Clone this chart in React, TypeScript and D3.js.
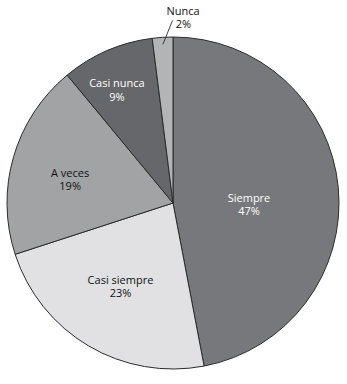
import React from "react";
import * as d3 from "d3";

const categories = ["Siempre", "Casi siempre", "A veces", "Casi nunca", "Nunca"];
const percents = [47, 23, 19, 9, 2];
const percentLabels = ["47%", "23%", "19%", "9%", "2%"];

const fills = ["#77787b", "#e1e1e3", "#a2a3a5", "#66676a", "#b3b4b6"];
const textColors = ["#ffffff", "#111111", "#111111", "#ffffff", "#111111"];
// label placement: [angle in degrees clockwise from top, radius fraction]
const labelPolar: [number, number][] = [
  [91, 0.458],
  [212.2, 0.594],
  [283, 0.636],
  [333.6, 0.76],
];

const W = 347;
const H = 384;
const cx = 173;
const cy = 203;
const R = 166;

export default function App() {
  const pie = d3
    .pie<number>()
    .sort(null)
    .value((d) => d);
  const arcs = pie(percents);
  const arcGen = d3.arc<d3.PieArcDatum<number>>().innerRadius(0).outerRadius(R);
  const font = "'Open Sans', sans-serif";
  const fs = 11;
  const lh = 13.5;

  const polar = (deg: number, r: number) => {
    const a = (deg * Math.PI) / 180;
    return [Math.sin(a) * r, -Math.cos(a) * r];
  };

  return (
    <svg
      width={W}
      height={H}
      style={{ position: "absolute", left: 0, top: 0, background: "#fff" }}
    >
      <g transform={`translate(${cx},${cy})`}>
        {arcs.map((a, i) => (
          <path
            key={categories[i]}
            d={arcGen(a) || ""}
            fill={fills[i]}
            stroke="#2b2b2d"
            strokeWidth={1}
            strokeLinejoin="round"
          />
        ))}
        {arcs.slice(0, 4).map((a, i) => {
          const [x, y] = polar(labelPolar[i][0], labelPolar[i][1] * R);
          return (
            <text
              key={"l" + i}
              x={x}
              y={y}
              fill={textColors[i]}
              fontFamily={font}
              fontSize={fs}
              textAnchor="middle"
            >
              <tspan x={x} dy={-lh / 2 + 4}>
                {categories[i]}
              </tspan>
              <tspan x={x} dy={lh}>
                {percentLabels[i]}
              </tspan>
            </text>
          );
        })}
      </g>
      {(() => {
        const a = arcs[4];
        const mid = (a.startAngle + a.endAngle) / 2;
        const inner = [cx + Math.sin(mid) * (R - 5), cy - Math.cos(mid) * (R - 5)];
        return (
          <g>
            <line
              x1={172.5}
              y1={20.5}
              x2={inner[0]}
              y2={inner[1] + 2}
              stroke="#2b2b2d"
              strokeWidth={0.9}
            />
            <text
              x={183}
              y={15}
              fill={textColors[4]}
              fontFamily={font}
              fontSize={fs}
              textAnchor="middle"
            >
              {categories[4]}
            </text>
            <text
              x={183.5}
              y={28}
              fill={textColors[4]}
              fontFamily={font}
              fontSize={fs}
              textAnchor="middle"
            >
              {percentLabels[4]}
            </text>
          </g>
        );
      })()}
    </svg>
  );
}
